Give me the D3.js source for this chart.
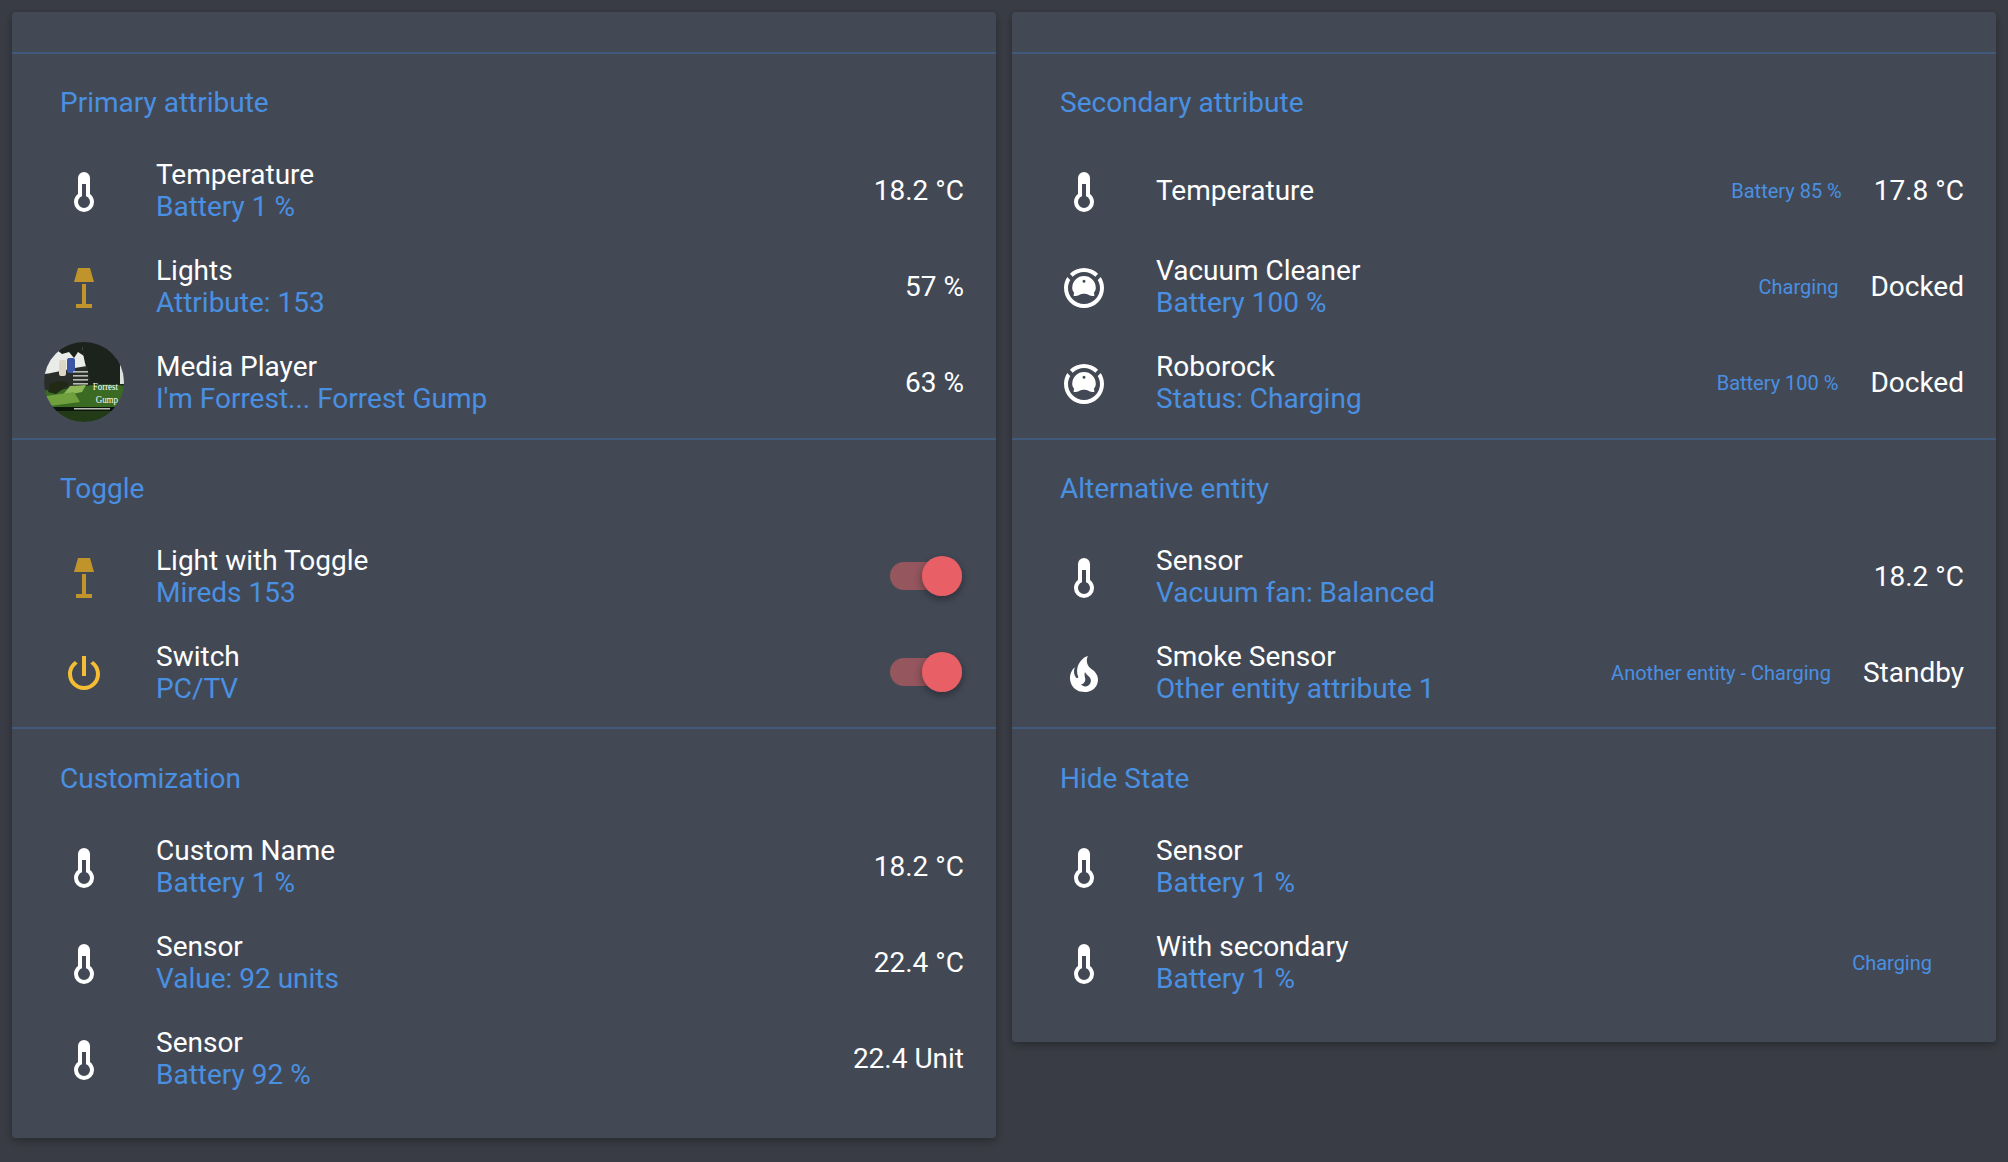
<!DOCTYPE html>
<html>
<head>
<meta charset="utf-8">
<script src="https://cdn.jsdelivr.net/npm/d3@7"></script>
<style>
  html, body { margin: 0; padding: 0; background: #393c44; }
  svg { display: block; }
  text { font-family: Roboto, sans-serif; }
  .card { fill: #434955; filter: url(#cardShadow); }
  .divider { stroke: #415a7b; stroke-width: 2; }
  .title { fill: #4a90e2; font-size: 28px; }
  .name { fill: #fff; font-size: 28px; }
  .sub { fill: #4a90e2; font-size: 28px; }
  .state { fill: #fff; font-size: 28px; }
  .secondary { fill: #4a90e2; font-size: 20px; }
</style>
</head>
<body>
<div id="chart"></div>
<script>
// rows are [icon, name, sub line, secondary info, state]
var primaryRows = [
  ["thermometer", "Temperature", "Battery 1 %", "", "18.2 °C"],
  ["lamp", "Lights", "Attribute: 153", "", "57 %"],
  ["cover", "Media Player", "I'm Forrest... Forrest Gump", "", "63 %"]
];
var toggleRows = [
  ["lamp", "Light with Toggle", "Mireds 153", "", "toggle"],
  ["power", "Switch", "PC/TV", "", "toggle"]
];
var customRows = [
  ["thermometer", "Custom Name", "Battery 1 %", "", "18.2 °C"],
  ["thermometer", "Sensor", "Value: 92 units", "", "22.4 °C"],
  ["thermometer", "Sensor", "Battery 92 %", "", "22.4 Unit"]
];
var secondaryRows = [
  ["thermometer", "Temperature", "", "Battery 85 %", "17.8 °C"],
  ["vacuum", "Vacuum Cleaner", "Battery 100 %", "Charging", "Docked"],
  ["vacuum", "Roborock", "Status: Charging", "Battery 100 %", "Docked"]
];
var alternativeRows = [
  ["thermometer", "Sensor", "Vacuum fan: Balanced", "", "18.2 °C"],
  ["fire", "Smoke Sensor", "Other entity attribute 1", "Another entity - Charging", "Standby"]
];
var hideRows = [
  ["thermometer", "Sensor", "Battery 1 %", "", ""],
  ["thermometer", "With secondary", "Battery 1 %", "Charging", ""]
];

var leftTitles = ["Primary attribute", "Toggle", "Customization"];
var rightTitles = ["Secondary attribute", "Alternative entity", "Hide State"];
var leftSections = [primaryRows, toggleRows, customRows];
var rightSections = [secondaryRows, alternativeRows, hideRows];
var dividers = [53, 439, 728];
var sectionTops = [53, 439, 729];

// material design icons, 24 unit box
var icons = {
  thermometer: { d: "M17,17A5,5 0 0,1 12,22A5,5 0 0,1 7,17C7,15.36 7.79,13.91 9,13V5A3,3 0 0,1 12,2A3,3 0 0,1 15,5V13C16.21,13.91 17,15.36 17,17M11,8V14.17C9.83,14.58 9,15.69 9,17A3,3 0 0,0 12,20A3,3 0 0,0 15,17C15,15.69 14.17,14.58 13,14.17V8H11Z", color: "#fff" },
  lamp: { d: "M9 2H15L17 9H7L9 2M11 10H13V20H16V22H8V20H11V10Z", color: "#c0932b" },
  power: { d: "M16.56,5.44L15.11,6.89C16.84,7.94 18,9.83 18,12A6,6 0 0,1 12,18A6,6 0 0,1 6,12C6,9.83 7.16,7.94 8.88,6.88L7.44,5.44C5.36,6.88 4,9.28 4,12A8,8 0 0,0 12,20A8,8 0 0,0 20,12C20,9.28 18.64,6.88 16.56,5.44M13,3H11V13H13", color: "#f4bd33" },
  vacuum: { d: "M12,2C14.65,2 17.19,3.06 19.07,4.93L17.65,6.35C16.15,4.85 14.12,4 12,4C9.88,4 7.84,4.84 6.35,6.35L4.93,4.93C6.81,3.06 9.35,2 12,2M3.66,6.5L5.11,7.94C4.39,9.17 4,10.57 4,12A8,8 0 0,0 12,20A8,8 0 0,0 20,12C20,10.57 19.61,9.17 18.88,7.94L20.34,6.5C21.42,8.12 22,10.04 22,12A10,10 0 0,1 12,22A10,10 0 0,1 2,12C2,10.04 2.58,8.12 3.66,6.5M12,6A5.9,5.9 0 0,1 17.9,11.9C17.9,13 17.5,13.7 17,14.2L17.2,16C15.8,16 14.8,15.7 14,15.2C13,14.7 11,14.7 10,15.2C9.2,15.7 8.2,16 6.8,16L7,14.2C6.5,13.7 6.1,13 6.1,11.9A5.9,5.9 0 0,1 12,6M12,7.9A0.75,0.75 0 0,0 11.25,8.65A0.75,0.75 0 0,0 12,9.4A0.75,0.75 0 0,0 12.75,8.65A0.75,0.75 0 0,0 12,7.9Z", color: "#fff" },
  fire: { d: "M17.66 11.2C17.43 10.9 17.15 10.64 16.89 10.38C16.22 9.78 15.46 9.35 14.82 8.72C13.33 7.26 13 4.85 13.95 3C13 3.23 12.17 3.75 11.46 4.32C8.87 6.4 7.85 10.07 9.07 13.22C9.11 13.32 9.15 13.42 9.15 13.55C9.15 13.77 9 13.97 8.8 14.05C8.57 14.15 8.33 14.09 8.14 13.93C8.08 13.88 8.04 13.83 8 13.76C6.87 12.33 6.69 10.28 7.45 8.64C5.78 10 4.87 12.3 5 14.47C5.06 14.97 5.12 15.47 5.29 15.97C5.43 16.57 5.7 17.17 6 17.7C7.08 19.43 8.95 20.67 10.96 20.92C13.1 21.19 15.39 20.8 17.03 19.32C18.86 17.66 19.5 15 18.56 12.72L18.43 12.46C18.28 12.13 17.66 11.2 17.66 11.2M14.5 17.5C14.22 17.74 13.76 18 13.4 18.1C12.28 18.5 11.16 17.94 10.5 17.28C11.69 17 12.4 16.12 12.61 15.23C12.78 14.43 12.46 13.77 12.33 13C12.21 12.26 12.23 11.63 12.5 10.94C12.69 11.32 12.89 11.7 13.13 12C13.9 13 15.11 13.44 15.37 14.8C15.41 14.94 15.43 15.08 15.43 15.23C15.46 16.05 15.1 16.95 14.5 17.5H14.5Z", color: "#fff" }
};

var svg = d3.select("#chart").append("svg").attr("width", 2008).attr("height", 1162);
var defs = svg.append("defs");

var shadow = defs.append("filter").attr("id", "cardShadow")
  .attr("x", "-5%").attr("y", "-5%").attr("width", "110%").attr("height", "110%");
shadow.append("feDropShadow").attr("dx", 0).attr("dy", 3).attr("stdDeviation", 4)
  .attr("flood-color", "#000").attr("flood-opacity", 0.3);

var thumbShadow = defs.append("filter").attr("id", "thumbShadow")
  .attr("x", "-50%").attr("y", "-50%").attr("width", "200%").attr("height", "200%");
thumbShadow.append("feDropShadow").attr("dx", 0).attr("dy", 3).attr("stdDeviation", 4)
  .attr("flood-color", "#000").attr("flood-opacity", 0.4);

defs.append("filter").attr("id", "soften")
  .append("feGaussianBlur").attr("stdDeviation", 0.5);

defs.append("clipPath").attr("id", "coverClip").append("circle").attr("r", 40);

// row centre relative to the divider above it
var rowY = d3.scaleLinear().domain([0, 1]).range([139, 235]);

function drawCard(x, bottom, titles, sections) {
  var card = svg.append("g").attr("transform", "translate(" + x + ",0)");

  card.append("rect").attr("class", "card")
    .attr("x", 0).attr("y", 12).attr("width", 984).attr("height", bottom - 12).attr("rx", 4);

  sections.forEach(function(rows, s) {
    var top = sectionTops[s];
    card.append("line").attr("class", "divider")
      .attr("x1", 0).attr("x2", 984).attr("y1", dividers[s]).attr("y2", dividers[s]);
    card.append("text").attr("class", "title")
      .attr("x", 48).attr("y", top + 59).text(titles[s]);

    var row = card.selectAll(null).data(rows).enter().append("g")
      .attr("transform", function(d, i) { return "translate(0," + (top + rowY(i)) + ")"; });

    row.each(function(d) {
      var g = d3.select(this);
      if (d[0] == "cover") {
        drawCover(g);
      } else {
        g.append("path").attr("d", icons[d[0]].d).attr("fill", icons[d[0]].color)
          .attr("transform", "translate(48,-24) scale(2)");
      }

      if (d[2]) {
        g.append("text").attr("class", "name").attr("x", 144).attr("y", -8).text(d[1]);
        g.append("text").attr("class", "sub").attr("x", 144).attr("y", 24).text(d[2]);
      } else {
        g.append("text").attr("class", "name").attr("x", 144).attr("y", 8).text(d[1]);
      }

      var stateLeft = 952;
      if (d[4] == "toggle") {
        drawToggle(g);
      } else if (d[4]) {
        var st = g.append("text").attr("class", "state").attr("x", 952).attr("y", 8)
          .attr("text-anchor", "end").text(d[4]);
        stateLeft = 952 - st.node().getComputedTextLength();
      }
      if (d[3]) {
        g.append("text").attr("class", "secondary").attr("x", stateLeft - 32).attr("y", 6)
          .attr("text-anchor", "end").text(d[3]);
      }
    });
  });
}

function drawToggle(g) {
  g.append("rect").attr("x", 878).attr("y", -16).attr("width", 72).attr("height", 28).attr("rx", 14)
    .attr("fill", "#95565e");
  g.append("circle").attr("cx", 930).attr("cy", -2).attr("r", 20)
    .attr("fill", "#e85f66").attr("filter", "url(#thumbShadow)");
}

// rough drawing of the poster used as the media player picture
function drawCover(g) {
  var c = g.append("g").attr("transform", "translate(72,-2)").attr("clip-path", "url(#coverClip)");
  var art = c.append("g").attr("filter", "url(#soften)");
  art.append("rect").attr("x", -40).attr("y", -40).attr("width", 80).attr("height", 80).attr("fill", "#1d211c");
  // sky
  art.append("path").attr("fill", "#e9ece9")
    .attr("d", "M-40,-36H-2C-1,-28 1,-18 3,-12L-4,-8L-20,-6L-40,-6Z");
  art.append("rect").attr("x", 36).attr("y", -20).attr("width", 6).attr("height", 22).attr("fill", "#dde2dd");
  // moss and branches
  art.append("path").attr("fill", "#1d211c")
    .attr("d", "M-40,-34C-26,-38 -12,-38 -2,-36L0,-26L-6,-30L-10,-24L-15,-30L-22,-28L-27,-32L-34,-26Z");
  art.append("path").attr("fill", "#2b2f2a")
    .attr("d", "M-40,-8C-28,-9 -14,-14 3,-16L6,-2C-8,2 -16,6 -26,12L-40,10Z");
  // grass
  art.append("path").attr("fill", "#3b6a24")
    .attr("d", "M-40,8C-24,10 -10,4 2,4C14,2 28,2 42,4V26H-40Z");
  art.append("path").attr("fill", "#8fb958")
    .attr("d", "M-14,4L2,3L-2,10L-22,14Z");
  art.append("path").attr("fill", "#6fa03d")
    .attr("d", "M-38,14L-10,10L-4,20L-34,24Z");
  art.append("path").attr("fill", "#222c18")
    .attr("d", "M-34,2C-26,-2 -20,-2 -14,2L-28,12L-36,10Z");
  art.append("rect").attr("x", -40).attr("y", 25).attr("width", 80).attr("height", 4).attr("fill", "#10160c");
  art.append("rect").attr("x", -40).attr("y", 29).attr("width", 80).attr("height", 11).attr("fill", "#243a18");
  // the two people on the branch
  art.append("rect").attr("x", -25).attr("y", -22).attr("width", 7).attr("height", 16).attr("rx", 2).attr("fill", "#dcd6c4");
  art.append("rect").attr("x", -17).attr("y", -24).attr("width", 8).attr("height", 15).attr("rx", 2).attr("fill", "#3c55a5");
  // credit lines and bottom strip
  art.selectAll(null).data([-11, -7, -3, 1]).enter().append("rect")
    .attr("x", -11).attr("y", function(d) { return d; }).attr("width", 15).attr("height", 1.6).attr("fill", "#b8bcb5");
  art.append("rect").attr("x", -10).attr("y", 26).attr("width", 36).attr("height", 1.5).attr("fill", "#b9bdb5");

  var forrest = c.append("text").attr("transform", "translate(34,7.5) scale(0.85,1)")
    .style("font-family", "'Liberation Serif', serif").style("font-size", "10.5px")
    .attr("fill", "#fff").attr("text-anchor", "end").text("Forrest");
  var gump = c.append("text").attr("transform", "translate(34,21) scale(0.85,1)")
    .style("font-family", "'Liberation Serif', serif").style("font-size", "10.5px")
    .attr("fill", "#fff").attr("text-anchor", "end").text("Gump");
}

drawCard(12, 1138, leftTitles, leftSections);
drawCard(1012, 1042, rightTitles, rightSections);
</script>
</body>
</html>
